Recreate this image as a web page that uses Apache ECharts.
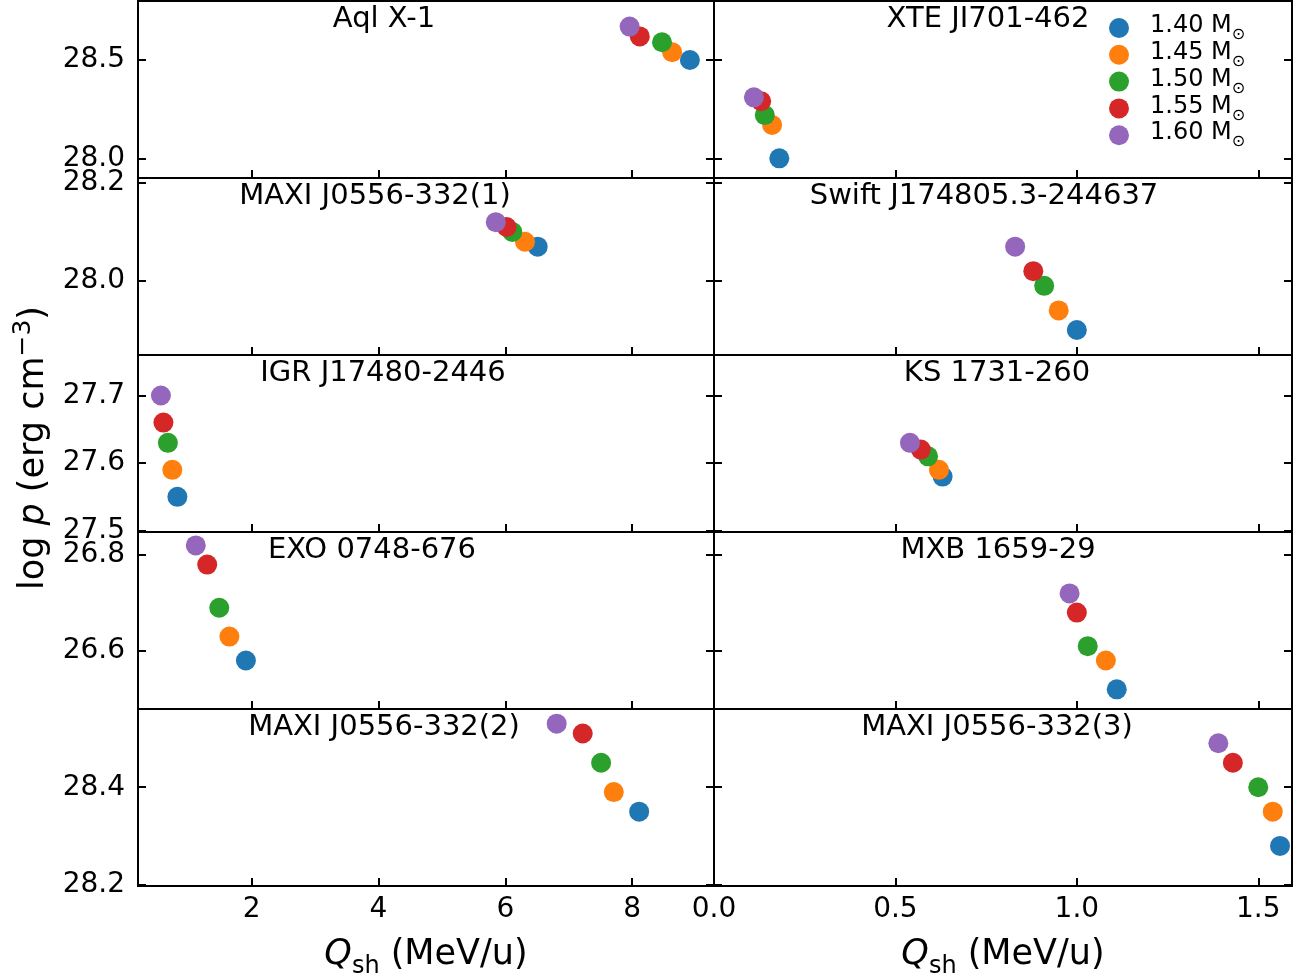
<!DOCTYPE html>
<html><head><meta charset="utf-8">
<script src="https://cdn.jsdelivr.net/npm/echarts@6/dist/echarts.min.js"></script>
<style>html,body{margin:0;padding:0;background:#fff}#c{width:1296px;height:974px}</style>
</head><body><div id="c"></div>
<script>
// ---------- data (each array ordered by mass: 1.40, 1.45, 1.50, 1.55, 1.60 Msun) ----------
const masses = ['1.40', '1.45', '1.50', '1.55', '1.60'];
const panelNames = ['Aql X-1', 'XTE JI701-462', 'MAXI J0556-332(1)', 'Swift J174805.3-244637',
  'IGR J17480-2446', 'KS 1731-260', 'EXO 0748-676', 'MXB 1659-29', 'MAXI J0556-332(2)', 'MAXI J0556-332(3)'];

const qAql   = [8.91, 8.63, 8.47, 8.12, 7.96];
const pAql   = [28.50, 28.54, 28.59, 28.62, 28.67];
const qXte   = [0.18, 0.16, 0.14, 0.13, 0.11];
const pXte   = [28.00, 28.17, 28.22, 28.29, 28.31];
const qMaxi1 = [6.51, 6.31, 6.11, 6.02, 5.85];
const pMaxi1 = [28.07, 28.08, 28.10, 28.11, 28.12];
const qSwift = [1.00, 0.95, 0.91, 0.88, 0.83];
const pSwift = [27.90, 27.94, 27.99, 28.02, 28.07];
const qIgr   = [0.83, 0.75, 0.68, 0.61, 0.57];
const pIgr   = [27.55, 27.59, 27.63, 27.66, 27.70];
const qKs    = [0.63, 0.62, 0.59, 0.57, 0.54];
const pKs    = [27.58, 27.59, 27.61, 27.62, 27.63];
const qExo   = [1.91, 1.65, 1.49, 1.30, 1.12];
const pExo   = [26.58, 26.63, 26.69, 26.78, 26.82];
const qMxb   = [1.11, 1.08, 1.03, 1.00, 0.98];
const pMxb   = [26.52, 26.58, 26.61, 26.68, 26.72];
const qMaxi2 = [8.11, 7.71, 7.51, 7.22, 6.81];
const pMaxi2 = [28.35, 28.39, 28.45, 28.51, 28.53];
const qMaxi3 = [1.56, 1.54, 1.50, 1.43, 1.39];
const pMaxi3 = [28.28, 28.35, 28.40, 28.45, 28.49];

const panelQ = [qAql, qXte, qMaxi1, qSwift, qIgr, qKs, qExo, qMxb, qMaxi2, qMaxi3];
const panelP = [pAql, pXte, pMaxi1, pSwift, pIgr, pKs, pExo, pMxb, pMaxi2, pMaxi3];

// tick labels
const yTicksRow = [[28.0, 28.5], [28.0, 28.2], [27.5, 27.6, 27.7], [26.6, 26.8], [28.2, 28.4]];
const xTicksLeft = [2, 4, 6, 8];
const xTicksRight = [0.0, 0.5, 1.0, 1.5];

// ---------- layout / style ----------
const FONT = 'DejaVu Sans';
const colors = ['#1f77b4', '#ff7f0e', '#2ca02c', '#d62728', '#9467bd'];
const yRange = [[27.90, 28.80], [27.849, 28.21], [27.498, 27.760], [26.479, 26.848], [28.198, 28.560]];
const xRange = [[0.209, 9.29], [0.0, 1.593]];
const colLeft = [138, 714], colWidth = [576, 578];
const rowTop = [1, 178, 355, 532, 709], rowH = 177;
const titleX = [384, 988, 375, 984, 383, 997, 372, 998, 384, 997];

const grids = [], xAxes = [], yAxes = [], series = [], graphics = [];
const tickStyle = { show: true, inside: true, length: 8, lineStyle: { color: '#000', width: 2 } };

for (let r = 0; r < 5; r++) {
  for (let c = 0; c < 2; c++) {
    const i = r * 2 + c;
    grids.push({ left: colLeft[c], top: rowTop[r], width: colWidth[c], height: rowH,
      containLabel: false, outerBoundsMode: 'none',
      show: true, borderColor: '#000', borderWidth: 2, backgroundColor: 'transparent' });
    const xt = c === 0 ? xTicksLeft : xTicksRight;
    const xa = {
      type: 'value', gridIndex: i, position: 'bottom', min: xRange[c][0], max: xRange[c][1],
      axisLine: { show: false }, splitLine: { show: false },
      axisTick: Object.assign({ customValues: xt }, tickStyle),
      axisLabel: { show: r === 4, customValues: xt, margin: 10, fontFamily: FONT, fontSize: 28, color: '#000',
        formatter: v => c === 0 ? String(v) : v.toFixed(1) }
    };
    if (r === 4) {
      xa.name = '{q|Q}{sub|sh}{t| (MeV/u)}';
      xa.nameLocation = 'middle';
      xa.nameGap = 44;
      xa.nameTextStyle = { fontFamily: FONT, fontSize: 35, color: '#000',
        rich: { q: { fontFamily: FONT, fontSize: 35, fontStyle: 'italic', verticalAlign: 'bottom', lineHeight: 42 },
                sub: { fontFamily: FONT, fontSize: 24, verticalAlign: 'bottom', lineHeight: 42, padding: [0, 0, -7, 0] },
                t: { fontFamily: FONT, fontSize: 35, verticalAlign: 'bottom', lineHeight: 42 } } };
    }
    xAxes.push(xa);
    const yt = yTicksRow[r];
    yAxes.push({
      type: 'value', gridIndex: i, position: 'left', min: yRange[r][0], max: yRange[r][1],
      axisLine: { show: false }, splitLine: { show: false },
      axisTick: Object.assign({ customValues: yt }, tickStyle),
      axisLabel: { show: c === 0, customValues: yt, margin: 13, fontFamily: FONT, fontSize: 28, color: '#000',
        formatter: v => v.toFixed(1) }
    });
    yAxes.push({
      type: 'value', gridIndex: i, position: 'right', min: yRange[r][0], max: yRange[r][1],
      axisLine: { show: false }, splitLine: { show: false },
      axisTick: Object.assign({ customValues: yt }, tickStyle),
      axisLabel: { show: false, customValues: yt }
    });
    for (let m = 0; m < masses.length; m++) {
      series.push({
        type: 'scatter', name: masses[m], xAxisIndex: i, yAxisIndex: 2 * i,
        data: [[panelQ[i][m], panelP[i][m]]],
        symbol: 'circle', symbolSize: 20,
        itemStyle: { color: colors[m], opacity: 1 },
        emphasis: { disabled: true }, silent: true
      });
    }
    graphics.push({
      type: 'text', x: titleX[i], y: rowTop[r] + 18, z: 100,
      style: { text: panelNames[i], font: '29px "' + FONT + '"', fill: '#000',
        align: 'center', verticalAlign: 'middle', textAlign: 'center', textVerticalAlign: 'middle' }
    });
  }
}

graphics.push({
  type: 'text', x: 30, y: 448, rotation: Math.PI / 2, z: 100,
  style: {
    text: '{a|log }{i|p}{a| (erg cm}{s|−3}{a|)}',
    align: 'center', verticalAlign: 'middle', textAlign: 'center', textVerticalAlign: 'middle',
    fill: '#000',
    rich: {
      a: { fontFamily: FONT, fontSize: 35, verticalAlign: 'bottom', lineHeight: 42 },
      i: { fontFamily: FONT, fontSize: 35, fontStyle: 'italic', verticalAlign: 'bottom', lineHeight: 42 },
      s: { fontFamily: FONT, fontSize: 25, verticalAlign: 'bottom', lineHeight: 42, padding: [0, 0, 15, 0] }
    }
  }
});

const option = {
  animation: false,
  backgroundColor: '#fff',
  grid: grids, xAxis: xAxes, yAxis: yAxes, series: series,
  legend: {
    data: masses, orient: 'vertical', left: 1109, top: 14, padding: 0,
    itemWidth: 20, itemHeight: 20, itemGap: -2.2,
    icon: 'circle', selectedMode: false,
    formatter: n => '{n|' + n + ' M}{s|⊙}',
    textStyle: { color: '#000', fontFamily: FONT, fontSize: 24, padding: [0, 0, 0, 16],
      rich: { n: { fontFamily: FONT, fontSize: 24, color: '#000', lineHeight: 20, verticalAlign: 'bottom' },
              s: { fontFamily: FONT, fontSize: 16, color: '#000', lineHeight: 20, verticalAlign: 'bottom', padding: [0, 0, -5, 0] } } }
  },
  graphic: graphics
};
const chart = echarts.init(document.getElementById('c'), null, { renderer: 'canvas' });
chart.setOption(option);
</script></body></html>
